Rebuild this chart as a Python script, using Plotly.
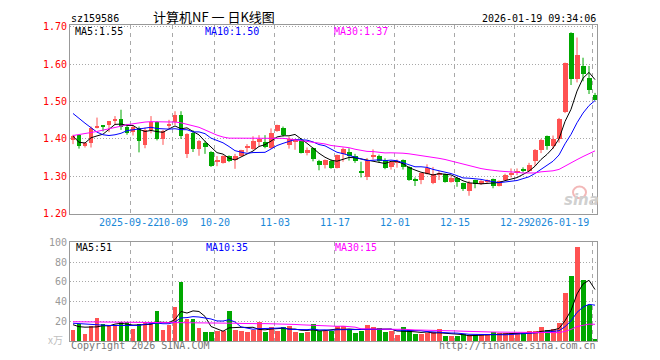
import plotly.graph_objects as go

# ---------------- data ----------------
symbol = "sz159586"
title_text = "计算机NF 一 日K线图"
timestamp = "2026-01-19 09:34:06"

opens = [1.397, 1.410, 1.381, 1.389, 1.430, 1.433, 1.436, 1.447, 1.452, 1.432,
         1.419, 1.430, 1.384, 1.424, 1.446, 1.400, 1.435, 1.444, 1.463, 1.360,
         1.415, 1.374, 1.389, 1.365, 1.340, 1.336, 1.354, 1.344, 1.355, 1.376,
         1.374, 1.391, 1.393, 1.375, 1.422, 1.430, 1.384, 1.393, 1.397, 1.362,
         1.375, 1.342, 1.331, 1.341, 1.323, 1.360, 1.366, 1.353, 1.314, 1.297,
         1.353, 1.355, 1.344, 1.325, 1.337, 1.344, 1.325, 1.292, 1.290, 1.307,
         1.282, 1.304, 1.305, 1.284, 1.295, 1.281, 1.261, 1.290, 1.279, 1.284,
         1.292, 1.275, 1.290, 1.305, 1.309, 1.317, 1.315, 1.342, 1.369, 1.407,
         1.380, 1.399, 1.472, 1.683, 1.560, 1.594, 1.564, 1.518]
highs = [1.411, 1.410, 1.391, 1.433, 1.457, 1.434, 1.448, 1.461, 1.478, 1.440,
         1.435, 1.433, 1.430, 1.461, 1.447, 1.424, 1.451, 1.474, 1.474, 1.415,
         1.423, 1.397, 1.395, 1.367, 1.354, 1.356, 1.356, 1.360, 1.371, 1.386,
         1.407, 1.410, 1.410, 1.428, 1.438, 1.433, 1.406, 1.400, 1.402, 1.377,
         1.377, 1.344, 1.345, 1.345, 1.358, 1.377, 1.375, 1.360, 1.339, 1.349,
         1.372, 1.358, 1.348, 1.340, 1.345, 1.345, 1.327, 1.297, 1.310, 1.332,
         1.325, 1.314, 1.307, 1.300, 1.298, 1.283, 1.288, 1.291, 1.290, 1.292,
         1.294, 1.289, 1.307, 1.321, 1.321, 1.324, 1.336, 1.373, 1.400, 1.409,
         1.409, 1.456, 1.604, 1.685, 1.671, 1.617, 1.595, 1.523]
lows = [1.386, 1.374, 1.377, 1.377, 1.428, 1.420, 1.418, 1.437, 1.424, 1.411,
        1.409, 1.364, 1.375, 1.415, 1.396, 1.384, 1.428, 1.437, 1.400, 1.349,
        1.365, 1.355, 1.360, 1.325, 1.327, 1.334, 1.338, 1.320, 1.353, 1.364,
        1.371, 1.380, 1.375, 1.373, 1.419, 1.406, 1.374, 1.371, 1.361, 1.356,
        1.340, 1.316, 1.321, 1.320, 1.321, 1.339, 1.342, 1.336, 1.297, 1.290,
        1.345, 1.336, 1.319, 1.318, 1.323, 1.318, 1.288, 1.274, 1.279, 1.305,
        1.279, 1.290, 1.283, 1.283, 1.272, 1.261, 1.248, 1.268, 1.277, 1.280,
        1.268, 1.273, 1.289, 1.297, 1.303, 1.310, 1.313, 1.327, 1.362, 1.371,
        1.373, 1.390, 1.469, 1.544, 1.551, 1.554, 1.520, 1.503]
closes = [1.409, 1.382, 1.388, 1.428, 1.433, 1.432, 1.447, 1.454, 1.432, 1.416,
          1.431, 1.395, 1.425, 1.446, 1.400, 1.422, 1.440, 1.465, 1.408, 1.413,
          1.373, 1.395, 1.378, 1.327, 1.343, 1.354, 1.340, 1.354, 1.369, 1.380,
          1.395, 1.401, 1.378, 1.416, 1.436, 1.411, 1.400, 1.397, 1.362, 1.371,
          1.347, 1.331, 1.344, 1.323, 1.357, 1.374, 1.354, 1.340, 1.308, 1.340,
          1.358, 1.342, 1.323, 1.337, 1.340, 1.326, 1.291, 1.290, 1.308, 1.323,
          1.305, 1.310, 1.286, 1.295, 1.284, 1.265, 1.283, 1.279, 1.288, 1.290,
          1.273, 1.287, 1.304, 1.307, 1.312, 1.315, 1.331, 1.370, 1.397, 1.380,
          1.400, 1.454, 1.602, 1.560, 1.623, 1.573, 1.531, 1.505]
volumes = [10.7, 16.7, 6.7, 14.7, 22.7, 16.7, 15.7, 15.7, 18.7, 18.7,
           11.7, 16.7, 18.7, 18.7, 29.7, 10.7, 15.7, 33.7, 59.7, 21.7,
           21.7, 12.7, 8.7, 8.7, 9.7, 9.7, 29.7, 10.7, 9.7, 8.7,
           10.7, 18.7, 8.7, 13.7, 9.7, 13.7, 14.7, 8.7, 7.7, 8.7,
           16.7, 9.7, 9.7, 10.0, 14.7, 14.7, 11.7, 7.7, 9.7, 15.7,
           13.7, 12.7, 8.7, 9.7, 5.7, 13.7, 10.7, 6.7, 6.7, 7.7,
           8.7, 11.7, 4.7, 4.7, 4.7, 6.7, 5.7, 5.7, 5.7, 5.7,
           8.7, 7.7, 7.7, 7.7, 7.7, 7.7, 9.7, 9.7, 13.7, 10.7,
           11.7, 17.7, 48.7, 65.7, 94.7, 61.7, 36.7, 1.7]

# moving-average values before enough history is on the chart
ma5_head = [1.407, 1.391, 1.389, 1.403]
ma10_head = [1.468, 1.454, 1.442, 1.430, 1.418, 1.411, 1.409, 1.411, 1.415]
ma30_head = [1.409, 1.411, 1.414, 1.417, 1.420, 1.423, 1.426, 1.430, 1.434, 1.438,
             1.441, 1.443, 1.445, 1.446, 1.446, 1.446, 1.446, 1.445, 1.443, 1.439,
             1.435, 1.431, 1.424, 1.416, 1.410, 1.405, 1.402, 1.402, 1.402]
vma5_head = [16.5, 14.5, 14.0, 14.0]
vma10_head = [18.0, 17.5, 17.0, 16.5, 16.0, 15.8, 15.7, 15.7, 15.7]
vma30_head = [19.5, 19.4, 19.3, 19.2, 19.1, 19.0, 19.0, 18.9, 18.9, 18.8,
              18.8, 18.7, 18.7, 18.7, 18.6, 18.6, 18.6, 18.6, 18.6, 18.6,
              18.6, 18.5, 18.5, 18.4, 18.3, 18.2, 18.1, 18.0, 17.8]

date_tick_idx = [10, 17, 24, 34, 44, 54, 64, 74, 87]
date_tick_lbl = ["2025-09-22", "10-09", "10-20", "11-03", "11-17",
                 "12-01", "12-15", "12-29", "2026-01-19"]
price_ticks = [1.20, 1.30, 1.40, 1.50, 1.60, 1.70]
vol_ticks = [20, 40, 60, 80, 100]
price_ma_labels = ["MA5:1.55", "MA10:1.50", "MA30:1.37"]
vol_ma_labels = ["MA5:51", "MA10:35", "MA30:15"]

# ---------------- styles ----------------
RED = "#ff5252"
GREEN = "#00a800"
BORDER = "#999999"
GRID = "#a8a8a8"
MONO = "DejaVu Sans Mono"
CJK = "Noto Sans CJK SC"
MA_COLORS = ["#000000", "#0000ff", "#ff00ff"]
OFF = 8                      # page body margin of the browser
W, H = 660 - OFF, 360 - OFF
L, R, T, B = 70 - OFF, 63, 20 - OFF, 19
PW, PH = W - L - R, H - T - B


def moving(vals, n, head):
    out = list(head)
    for i in range(len(head), len(vals)):
        out.append(sum(vals[i - n + 1:i + 1]) / n)
    return out


def pxx(x):
    return (x - OFF - L) / PW


def pxy(y):
    return (H - B - (y - OFF)) / PH


n = len(closes)
idx = list(range(n))
up = [c >= o for o, c in zip(opens, closes)]
colors = [RED if u else GREEN for u in up]
min_body = 0.0027
body_base = [min(o, c) for o, c in zip(opens, closes)]
body_h = [max(abs(c - o), min_body) for o, c in zip(opens, closes)]

fig = go.Figure()

# wicks
for col, flag in ((RED, True), (GREEN, False)):
    wx, wy = [], []
    for i in idx:
        if up[i] == flag:
            wx += [i, i, None]
            wy += [lows[i], highs[i], None]
    fig.add_trace(go.Scatter(x=wx, y=wy, mode="lines", line=dict(color=col, width=1),
                             xaxis="x", yaxis="y", hoverinfo="skip"))
# bodies
fig.add_trace(go.Bar(x=idx, y=body_h, base=body_base, width=0.83,
                     marker=dict(color=colors, line=dict(width=0)),
                     xaxis="x", yaxis="y", hoverinfo="skip"))

# price MAs
for (per, head), col in zip(((5, ma5_head), (10, ma10_head), (30, ma30_head)), MA_COLORS):
    fig.add_trace(go.Scatter(x=idx, y=moving(closes, per, head), mode="lines",
                             line=dict(color=col, width=1), xaxis="x", yaxis="y",
                             hoverinfo="skip"))

# volume bars
fig.add_trace(go.Bar(x=idx, y=volumes, width=0.83,
                     marker=dict(color=colors, line=dict(width=0)),
                     xaxis="x2", yaxis="y2", hoverinfo="skip"))
for (per, head), col in zip(((5, vma5_head), (10, vma10_head), (30, vma30_head)), MA_COLORS):
    fig.add_trace(go.Scatter(x=idx, y=moving(volumes, per, head), mode="lines",
                             line=dict(color=col, width=1), xaxis="x2", yaxis="y2",
                             hoverinfo="skip"))

grid_x = [i - 0.4 for i in date_tick_idx]
main_top, main_bot = 20, 211.7
vol_top, vol_bot = 240.7, 341
xr = [-0.5, 87.33]
common_x = dict(range=xr, tickvals=grid_x, showticklabels=False, showgrid=True,
                gridcolor=GRID, griddash="4px,4px", gridwidth=1, zeroline=False,
                showline=True, mirror=True, linecolor=BORDER, linewidth=1, ticks="",
                fixedrange=True)
fig.update_layout(
    width=W, height=H, margin=dict(l=L, r=R, t=T, b=B),
    paper_bgcolor="white", plot_bgcolor="white", showlegend=False,
    bargap=0, barmode="overlay",
    xaxis=dict(domain=[0, 1], anchor="y", **common_x),
    xaxis2=dict(domain=[0, 1], anchor="y2", **common_x),
    yaxis=dict(domain=[pxy(main_bot), pxy(main_top)],
               range=[1.20, 1.20 + (main_bot - main_top) / 380], anchor="x",
               tickvals=price_ticks, ticktext=[f"{v:.2f}" for v in price_ticks],
               tickfont=dict(family=MONO, size=10, color="#ff0000"),
               showgrid=True, gridcolor=GRID, griddash="1px,2px", gridwidth=1,
               zeroline=False, showline=True, mirror=True, linecolor=BORDER,
               linewidth=1, ticks="", fixedrange=True),
    yaxis2=dict(domain=[0, pxy(vol_top)], range=[0, 100], anchor="x2",
                tickvals=vol_ticks, ticktext=[str(v) for v in vol_ticks],
                tickfont=dict(family=MONO, size=10, color="#999999"),
                showgrid=True, gridcolor=GRID, griddash="1px,2px", gridwidth=1,
                zeroline=False, showline=True, mirror=True, linecolor=BORDER,
                linewidth=1, ticks="", fixedrange=True),
)

ann = []


def text(s, x, y, anchor="left", size=10, color="#000000", family=MONO, **kw):
    ann.append(dict(text=s, x=pxx(x), y=pxy(y), xref="paper", yref="paper",
                    xanchor=anchor, yanchor="middle", showarrow=False,
                    font=dict(family=family, size=size, color=color), **kw))


text(symbol, 69, 13)
text(title_text, 214, 11.5, anchor="center", size=13, family=CJK, borderpad=0)
text(timestamp, 598, 13, anchor="right")
for s, x, col in zip(price_ma_labels, (74, 204, 333), MA_COLORS):
    text(s, x, 26.5, color=col, borderpad=0)
for s, x, col in zip(vol_ma_labels, (74, 204, 333), MA_COLORS):
    text(s, x, 246, color=col)
text("x万", 65, 339, anchor="right", color="#c0c0c0", family=CJK, size=10)
text("Copyright 2026 SINA.COM", 69, 345.5, color="#777777")
text("http://finance.sina.com.cn", 598, 345.5, anchor="right", color="#777777")
text("<b><i>sina</i></b>", 581, 198, anchor="center", size=15, color="#d0d0d0",
     family="DejaVu Sans")

# date labels
for k, (i, lbl) in enumerate(zip(date_tick_idx, date_tick_lbl)):
    last = k == len(date_tick_idx) - 1
    ann.append(dict(text=lbl, x=i - 0.4, y=pxy(221), xref="x", yref="paper",
                    xanchor="right" if last else "center", yanchor="middle",
                    xshift=-2 if (k == 0 or last) else 0,
                    showarrow=False, font=dict(family=MONO, size=10, color="#1a88d8")))
fig.update_layout(annotations=ann)

# sina eye watermark
fig.add_shape(type="circle", xref="paper", yref="paper",
              x0=pxx(573), x1=pxx(586), y0=pxy(196), y1=pxy(184),
              line=dict(color="#f3b8b8", width=2), fillcolor="rgba(0,0,0,0)")

fig.write_html("out.html")
